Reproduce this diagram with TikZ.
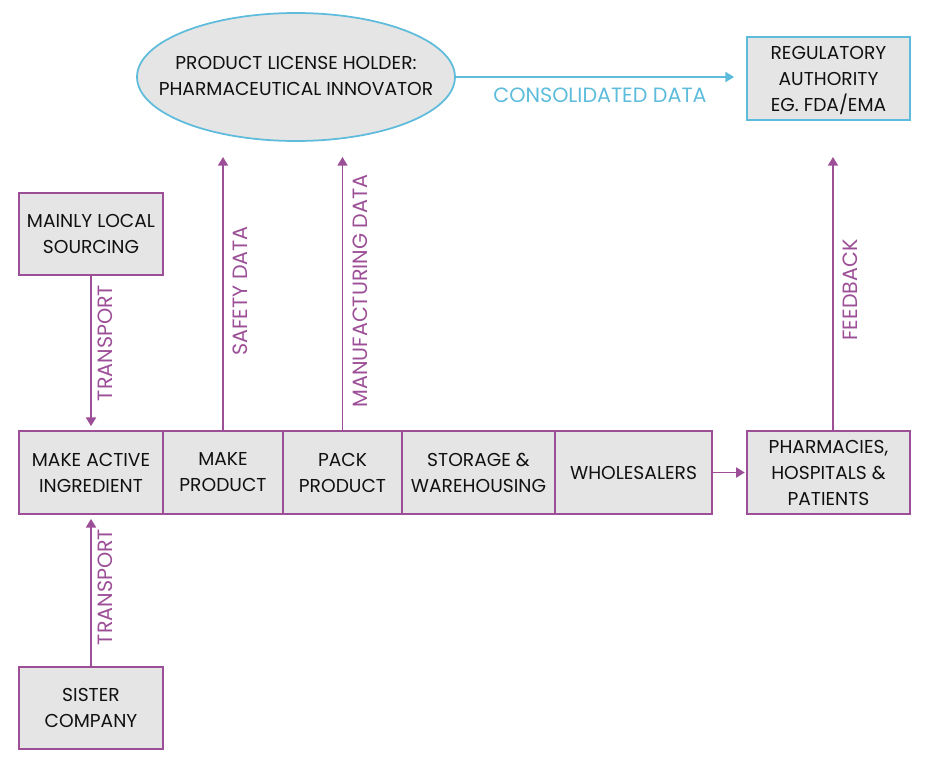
\documentclass[tikz,border=0pt]{standalone}
\usepackage{fontspec}
\setmainfont{Poppins}
\usetikzlibrary{shapes.geometric,arrows.meta}
\definecolor{pur}{HTML}{9C4F97}
\definecolor{cya}{HTML}{5DBCDB}
\definecolor{boxfill}{HTML}{E5E5E5}
\definecolor{txt}{HTML}{111111}
\begin{document}
\begin{tikzpicture}[x=0.75pt,y=-0.75pt,
  boxtext/.style={font=\fontsize{14}{19.5}\selectfont, text=txt, align=center},
  pbox/.style={boxtext, draw=pur, fill=boxfill, line width=1.3pt, rectangle, inner sep=0pt, minimum height={83*0.75pt}},
  cbox/.style={boxtext, draw=cya, fill=boxfill, line width=1.3pt, rectangle, inner sep=0pt, minimum height={83*0.75pt}},
  ell/.style={draw=cya, fill=boxfill, line width=1.3pt, ellipse, inner sep=0pt, minimum width={318*0.75pt}, minimum height={128*0.75pt}},
  parr/.style={draw=pur, line width=1.3pt, -{Triangle[length=6.5pt,width=7.5pt]}},
  carr/.style={draw=cya, line width=1.3pt, -{Triangle[length=6.5pt,width=7.5pt]}},
  plabel/.style={font=\fontsize{15.5}{18}\selectfont, text=pur, rotate=90, inner sep=0pt},
  clabel/.style={font=\fontsize{15.5}{18}\selectfont, text=cya, inner sep=0pt}
]
\useasboundingbox (0,0) rectangle (933,768);
% nodes
\node[ell] (plh) at (296,77) {};
\node[boxtext] (plht) at (296,76) {PRODUCT LICENSE HOLDER:\\PHARMACEUTICAL INNOVATOR};
\node[cbox, minimum width={163*0.75pt}, text depth=0pt] (reg) at (828.5,78.5) {REGULATORY\\AUTHORITY\\EG. FDA/EMA};
\node[pbox, minimum width={144*0.75pt}, minimum height={82*0.75pt}] (local) at (91,234) {MAINLY LOCAL\\SOURCING};
\node[pbox, minimum width={144*0.75pt}] (ai) at (91,472.5) {MAKE ACTIVE\\INGREDIENT};
\node[pbox, minimum width={120*0.75pt}] (mp) at (223,472.5) {MAKE\\PRODUCT};
\node[pbox, minimum width={119*0.75pt}] (pp) at (342.5,472.5) {PACK\\PRODUCT};
\node[pbox, minimum width={153*0.75pt}] (sw) at (478.5,472.5) {STORAGE \&\\WAREHOUSING};
\node[pbox, minimum width={157*0.75pt}] (wh) at (633.5,472.5) {WHOLESALERS};
\node[pbox, minimum width={163*0.75pt}] (ph) at (828.5,472.5) {PHARMACIES,\\HOSPITALS \&\\PATIENTS};
\node[pbox, minimum width={144*0.75pt}, minimum height={82*0.75pt}] (sis) at (91,708) {SISTER\\COMPANY};
% free ends
\coordinate (sd) at (223,157);
\coordinate (md) at (342.5,157);
\coordinate (fb) at (833,157);
% connectors
\draw[carr, shorten >=9pt] (plh.east) -- (reg.west |- plh.east);
\draw[parr] (mp.north) -- (sd);
\draw[parr] (pp.north) -- (md);
\draw[parr] (fb |- ph.north) -- (fb);
\draw[parr, shorten >=3pt] (local.south) -- (ai.north);
\draw[parr, shorten >=3pt] (sis.north) -- (ai.south);
\draw[parr, shorten >=1pt] (wh.east) -- (ph.west);
% labels
\node[clabel] (lcd) at (600,95) {CONSOLIDATED DATA};
\node[plabel] (lsd) at (240,291) {SAFETY DATA};
\node[plabel] (lmd) at (360,291) {MANUFACTURING DATA};
\node[plabel] (lfb) at (850,290) {FEEDBACK};
\node[plabel] (lt1) at (105,343) {TRANSPORT};
\node[plabel] (lt2) at (105,587) {TRANSPORT};
\end{tikzpicture}
\end{document}
